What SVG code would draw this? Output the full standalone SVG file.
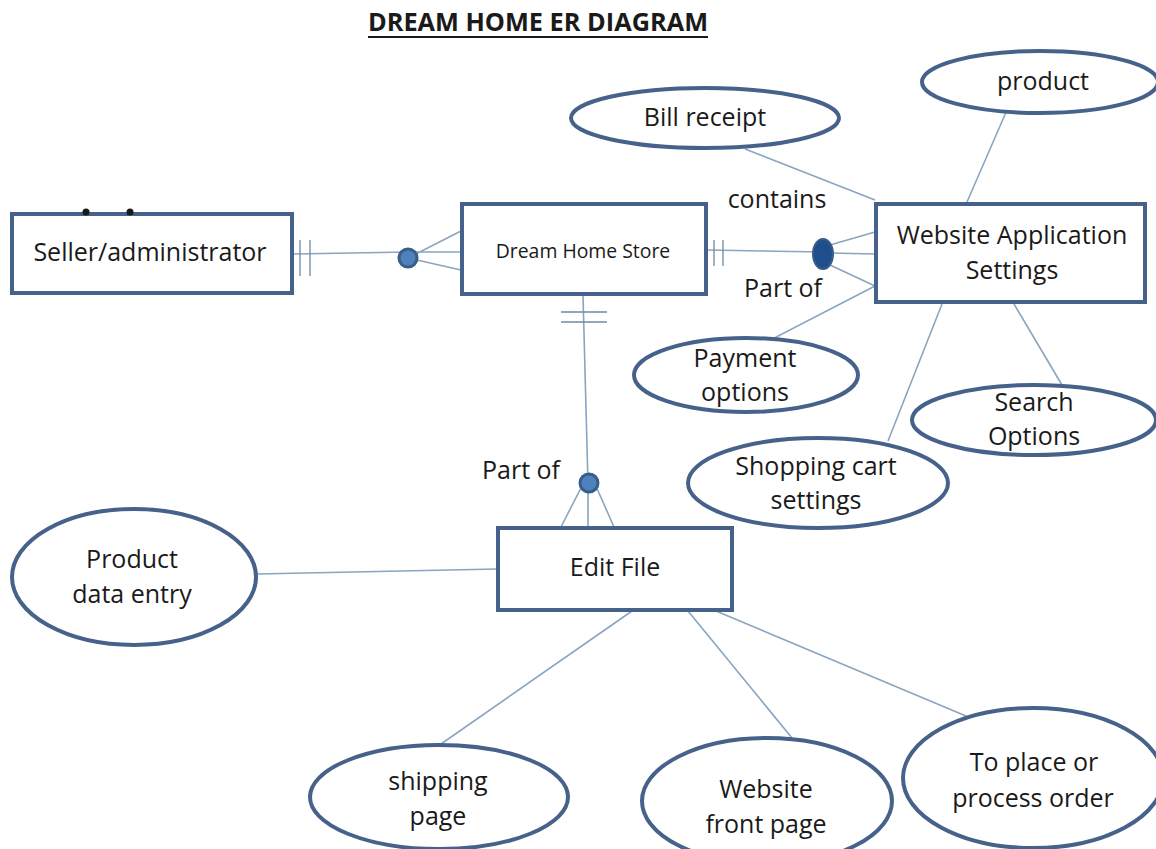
<svg xmlns="http://www.w3.org/2000/svg" width="1156" height="849" viewBox="0 0 1156 849">
<style>
.n{fill:#fff;stroke:#46628a;stroke-width:4}
.t{font-family:"Open Sans","Noto Sans",sans-serif;font-size:25px;fill:#1a1a1a;text-anchor:middle}
.l{stroke:#8aa5c0;stroke-width:1.6;fill:none}
.d{stroke:#6f8aa3;stroke-width:1.3;fill:none}
.c{fill:#4f81bd;stroke:#385d8a;stroke-width:3}
</style>
<rect width="1156" height="849" fill="#fff"/>
<g id="connectors">
<path class="l" d="M294 254L408 252M408 258L461 231M408 252H461M408 258L461 270"/>
<path class="d" d="M300 240V276M310 240V276"/>
<path class="l" d="M707 250L822 252M830 245L875 232M830 253L875 254M830 265L875 286"/>
<path class="d" d="M714 240V266M723 240V266"/>
<path class="l" d="M583 295L588 484M583 484L561 527M588 484V527M595 484L614 527"/>
<path class="d" d="M561 312H607M561 322H607"/>
<path class="l" d="M745 149L875 200M967 202L1007 110M875 286L757 347M942 304L888 441M1014 304L1062 385M257 574L497 569M632 611L441 744M688 611L792 738M716 611L966 716"/>
</g>
<g id="title"><text x="538" y="31" font-family="'Open Sans','Noto Sans',sans-serif" font-size="25" font-weight="700" fill="#1a1a1a" text-anchor="middle" textLength="340" lengthAdjust="spacingAndGlyphs">DREAM HOME ER DIAGRAM</text><path d="M368 37H708" stroke="#1a1a1a" stroke-width="2"/></g>
<g id="seller"><rect class="n" x="12" y="214" width="280" height="79"/><text class="t" x="150" y="261">Seller/administrator</text></g>
<g id="store"><rect class="n" x="462" y="204" width="244" height="90"/><text class="t" x="583" y="258" style="font-size:19.4px">Dream Home Store</text></g>
<g id="settings"><rect class="n" x="876" y="204" width="269" height="98"/><text class="t" x="1012" y="244">Website Application</text><text class="t" x="1012" y="279">Settings</text></g>
<g id="editfile"><rect class="n" x="498" y="528" width="234" height="82"/><text class="t" x="615" y="576">Edit File</text></g>
<g id="rel1"><circle class="c" cx="408" cy="258" r="9"/></g>
<g id="rel2"><ellipse cx="823" cy="254" rx="10" ry="15" fill="#1f4e8c" stroke="#385d8a" stroke-width="2"/></g>
<g id="rel3"><circle class="c" cx="589" cy="483" r="9"/></g>
<g id="product"><ellipse class="n" cx="1040" cy="82" rx="118" ry="31"/><text class="t" x="1043" y="90">product</text></g>
<g id="bill"><ellipse class="n" cx="705" cy="118" rx="134" ry="30"/><text class="t" x="705" y="126">Bill receipt</text></g>
<g id="payment"><ellipse class="n" cx="746" cy="375" rx="112" ry="37"/><text class="t" x="745" y="367">Payment</text><text class="t" x="745" y="401">options</text></g>
<g id="search"><ellipse class="n" cx="1034" cy="420" rx="122" ry="35"/><text class="t" x="1034" y="411">Search</text><text class="t" x="1034" y="445">Options</text></g>
<g id="cart"><ellipse class="n" cx="818" cy="483" rx="130" ry="45"/><text class="t" x="816" y="475">Shopping cart</text><text class="t" x="816" y="509">settings</text></g>
<g id="entry"><ellipse class="n" cx="134" cy="577" rx="122" ry="68"/><text class="t" x="132" y="568">Product</text><text class="t" x="132" y="603">data entry</text></g>
<g id="shipping"><ellipse class="n" cx="439" cy="797" rx="129" ry="52"/><text class="t" x="438" y="790">shipping</text><text class="t" x="438" y="825">page</text></g>
<g id="front"><ellipse class="n" cx="767" cy="801" rx="125" ry="63"/><text class="t" x="766" y="798">Website</text><text class="t" x="766" y="833">front page</text></g>
<g id="order"><ellipse class="n" cx="1033" cy="778" rx="130" ry="70"/><text class="t" x="1034" y="771">To place or</text><text class="t" x="1033" y="807">process order</text></g>
<g id="labels"><text class="t" x="777" y="208">contains</text><text class="t" x="783" y="297">Part of</text><text class="t" x="521" y="479">Part of</text></g>
<g id="marks" fill="#1a1a1a"><circle cx="86" cy="212" r="3.5"/><circle cx="130" cy="212" r="3.5"/></g>
</svg>
